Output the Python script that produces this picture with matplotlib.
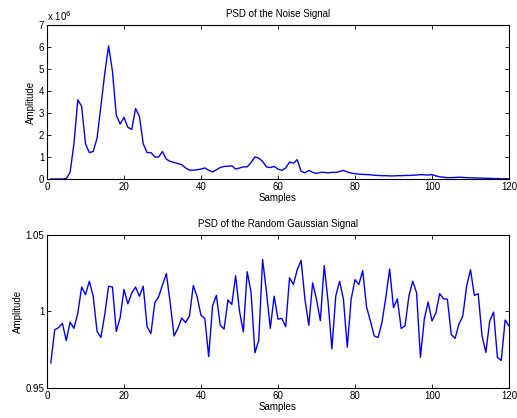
import matplotlib
matplotlib.use("Agg")
import matplotlib.pyplot as plt
import numpy as np

# PSD of the noise signal, in units of 1e6, samples 1..120
noise_psd = [
    0, 0, 0, 0, 0.02, 0.3, 1.6, 3.6, 3.3, 1.6,
    1.2, 1.25, 1.85, 3.3, 4.8, 6.05, 4.9, 2.9, 2.5, 2.8,
    2.35, 2.25, 3.2, 2.85, 1.6, 1.2, 1.2, 1.0, 1.0, 1.25,
    0.9, 0.8, 0.75, 0.7, 0.65, 0.5, 0.4, 0.4, 0.42, 0.45,
    0.5, 0.4, 0.32, 0.42, 0.52, 0.57, 0.58, 0.6, 0.45, 0.5,
    0.55, 0.55, 0.75, 1.0, 0.95, 0.8, 0.55, 0.52, 0.57, 0.45,
    0.39, 0.5, 0.77, 0.72, 0.88, 0.35, 0.28, 0.39, 0.3, 0.25,
    0.3, 0.3, 0.28, 0.3, 0.3, 0.34, 0.39, 0.32, 0.27, 0.24,
    0.22, 0.21, 0.2, 0.19, 0.17, 0.16, 0.15, 0.15, 0.14, 0.14,
    0.15, 0.15, 0.16, 0.16, 0.17, 0.18, 0.2, 0.19, 0.18, 0.2,
    0.14, 0.1, 0.08, 0.06, 0.06, 0.07, 0.08, 0.07, 0.06, 0.05,
    0.05, 0.04, 0.04, 0.03, 0.03, 0.02, 0.02, 0.01, 0.01, 0.0,
]

# PSD of the random gaussian signal
gauss_psd = [
    0.9664, 0.988, 0.9895, 0.9923, 0.981, 0.993, 0.989, 0.9988, 1.016, 1.011,
    1.0198, 1.010, 0.987, 0.983, 0.998, 1.0165, 1.016, 0.987, 0.996, 1.0144,
    1.005, 1.012, 1.016, 1.010, 1.0165, 0.990, 0.9856, 1.0057, 1.0096, 1.0174,
    1.0248, 1.0057, 0.984, 0.989, 0.9957, 0.9928, 0.997, 1.017, 1.0096, 0.9975,
    0.9954, 0.9705, 1.0036, 1.0105, 0.991, 0.9885, 1.0075, 1.0046, 1.0234, 1.0003,
    0.9867, 1.026, 1.0126, 0.973, 0.981, 1.034, 1.013, 0.989, 1.010, 0.995,
    0.9955, 0.990, 1.022, 1.0176, 1.0273, 1.0334, 1.008, 0.991, 1.0187, 1.008,
    0.994, 1.030, 1.0068, 0.9755, 1.010, 1.0198, 1.008, 0.9766, 1.008, 1.0208,
    1.0176, 1.0267, 1.003, 0.9938, 0.984, 0.983, 0.9928, 1.009, 1.0278, 1.0025,
    1.0083, 0.9889, 0.9906, 1.010, 1.0198, 1.0122, 0.970, 0.9949, 1.0062, 0.9938,
    0.999, 1.0117, 1.0083, 1.008, 0.985, 0.9824, 0.9917, 0.997, 1.0165, 1.0273,
    1.0105, 1.0117, 0.984, 0.9733, 0.9938, 0.9996, 0.970, 0.968, 0.9944, 0.9906,
]

x_ticks = [0, 20, 40, 60, 80, 100, 120]
noise_yticks = [0, 1, 2, 3, 4, 5, 6, 7]
gauss_yticks = [0.95, 1.0, 1.05]
gauss_yticklabels = ["0.95", "1", "1.05"]

plt.rcParams["font.family"] = ["Liberation Sans", "DejaVu Sans"]
plt.rcParams["font.size"] = 7

fig = plt.figure(figsize=(5.17, 4.18), dpi=100)
ax1 = fig.add_axes([0.0909, 0.5718, 0.8936, 0.3684])
ax2 = fig.add_axes([0.0909, 0.0718, 0.8936, 0.3660])

samples = np.arange(1, len(noise_psd) + 1)


def style(ax):
    ax.tick_params(direction="in", top=True, right=True, length=3, width=0.6,
                   labelsize=7, pad=2)
    for s in ax.spines.values():
        s.set_linewidth(0.8)
    ax.set_xlim(0, 120)
    ax.set_xticks(x_ticks)
    ax.set_xlabel("Samples", fontsize=7, labelpad=1)
    ax.set_ylabel("Amplitude", fontsize=7, labelpad=2)


ax1.plot(samples, noise_psd, color="#0000ff", lw=1.0)
style(ax1)
ax1.set_ylim(0, 7)
ax1.set_yticks(noise_yticks)
ax1.set_title("PSD of the Noise Signal", fontsize=7, pad=6)
ax1.text(0, 1.01, "x 10$^6$", transform=ax1.transAxes, fontsize=7,
         ha="left", va="bottom")

ax2.plot(np.arange(1, len(gauss_psd) + 1), gauss_psd, color="#0000ff", lw=1.0)
style(ax2)
ax2.set_ylim(0.95, 1.05)
ax2.set_yticks(gauss_yticks)
ax2.set_yticklabels(gauss_yticklabels)
ax2.set_title("PSD of the Random Gaussian Signal", fontsize=7, pad=6)

fig.savefig("out.png", dpi=100)
